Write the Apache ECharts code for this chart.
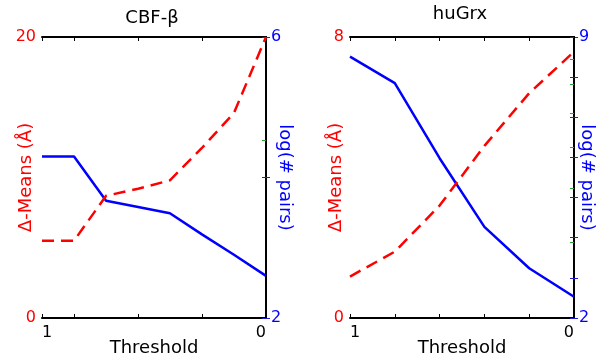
<!DOCTYPE html>
<html><head><meta charset="utf-8">
<script src="https://cdn.jsdelivr.net/npm/echarts@6/dist/echarts.min.js"></script>
<style>html,body{margin:0;padding:0;background:#fff}#c{width:600px;height:356px}</style>
</head><body><div id="c"></div>
<script>
// ---- text ----
const panelTitles = ['CBF-β', 'huGrx'];
const xAxisName = 'Threshold';
const leftAxisName = 'Δ-Means (Å)';
const rightAxisName = 'log(# pairs)';

// ---- data: CBF-β ----
const cbfThreshold = [1, 0.857, 0.714, 0.571, 0.429, 0.286, 0.143, 0];
const cbfDeltaMeans = [5.5, 5.5, 8.7, 9.2, 9.8, 12.1, 14.6, 20.0];
const cbfLogPairs = [4.30, 4.30, 3.67, 3.58, 3.49, 3.19, 2.90, 2.60];

// ---- data: huGrx ----
const grxThreshold = [1, 0.8, 0.6, 0.4, 0.2, 0];
const grxDeltaMeans = [1.18, 1.89, 3.2, 4.9, 6.4, 7.58];
const grxLogPairs = [8.51, 7.85, 5.98, 4.27, 3.24, 2.53];

// ---- axis ranges / ticks ----
const xRange = [0, 1];
const xTickStep = [2 / 7, 0.2];
const leftRange = [[0, 20], [0, 8]];
const leftTickStep = [10, 8 / 7];
const rightRange = [[2, 6], [2, 9]];
const rightTickStep = [2, 1];
const greenTickValues = [[4], [3, 4, 5, 6, 7, 8]];

const FONT = 'DejaVu Sans';
const RED = '#ff0000', BLUE = '#0000ff', GREEN = '#2e9e2e';
const gridsPos = [{ left: 42, top: 37, width: 224, height: 281 }, { left: 350, top: 37, width: 224, height: 281 }];

function endLabel(range) {
  return function (v) {
    if (Math.abs(v - range[0]) < 1e-9) return String(range[0]);
    if (Math.abs(v - range[1]) < 1e-9) return String(range[1]);
    return '';
  };
}

const grid = [], xAxis = [], yAxis = [], title = [];
const titleTops = [9, 5];
const leftNameGap = [7, 5];
const rightNameGap = [10, 4];
for (let p = 0; p < 2; p++) {
  grid.push(Object.assign({ show: false, containLabel: false, outerBoundsMode: 'none' }, gridsPos[p]));
  title.push({
    text: panelTitles[p], left: gridsPos[p].left + gridsPos[p].width / 2 - 2, top: titleTops[p], textAlign: 'center', padding: 0,
    textStyle: { fontFamily: FONT, fontSize: 18, fontWeight: 'normal', color: '#000' }
  });
  // bottom x
  xAxis.push({
    gridIndex: p, type: 'value', position: 'bottom', min: xRange[0], max: xRange[1], inverse: true, interval: xTickStep[p],
    axisLine: { lineStyle: { color: '#000', width: 2 } },
    axisTick: { inside: true, length: 4, lineStyle: { color: '#000', width: 1 } },
    axisLabel: { formatter: endLabel(xRange), color: '#000', fontFamily: FONT, fontSize: 16, margin: 7, alignMinLabel: 'right', alignMaxLabel: 'left' },
    splitLine: { show: false },
    name: xAxisName, nameLocation: 'middle', nameGap: 21, nameMoveOverlap: false,
    nameTextStyle: { fontFamily: FONT, fontSize: 18, color: '#000' }
  });
  // top x
  xAxis.push({
    gridIndex: p, type: 'value', position: 'top', min: xRange[0], max: xRange[1], inverse: true, interval: xTickStep[p],
    axisLine: { lineStyle: { color: '#000', width: 2 } },
    axisTick: { inside: true, length: 4, lineStyle: { color: '#000', width: 1 } },
    axisLabel: { show: false }, splitLine: { show: false }
  });
  // left y
  yAxis.push({
    gridIndex: p, type: 'value', position: 'left', min: leftRange[p][0], max: leftRange[p][1], interval: leftTickStep[p],
    axisLine: { lineStyle: { color: '#000080', width: 2 } },
    axisTick: { inside: true, length: 4, lineStyle: { color: '#2020d0', width: 1 } },
    axisLabel: { formatter: endLabel(leftRange[p]), color: RED, fontFamily: FONT, fontSize: 16, margin: 6 },
    splitLine: { show: false },
    name: leftAxisName, nameLocation: 'middle', nameRotate: 90, nameGap: leftNameGap[p], nameMoveOverlap: false,
    nameTextStyle: { fontFamily: FONT, fontSize: 18, color: RED }
  });
  // right y
  yAxis.push({
    gridIndex: p, type: 'value', position: 'right', min: rightRange[p][0], max: rightRange[p][1], interval: rightTickStep[p],
    axisLine: { lineStyle: { color: '#000', width: 2 } },
    axisTick: { inside: true, length: 4, lineStyle: { color: '#2020d0', width: 1 } },
    axisLabel: { formatter: endLabel(rightRange[p]), color: BLUE, fontFamily: FONT, fontSize: 16, margin: 5 },
    splitLine: { show: false },
    name: rightAxisName, nameLocation: 'middle', nameRotate: -90, nameGap: rightNameGap[p], nameMoveOverlap: false,
    nameTextStyle: { fontFamily: FONT, fontSize: 18, color: BLUE }
  });
  // green log ticks (right)
  yAxis.push({
    gridIndex: p, type: 'log', position: 'right', min: rightRange[p][0], max: rightRange[p][1],
    axisLine: { show: false },
    axisTick: { inside: true, length: 4, customValues: greenTickValues[p], lineStyle: { color: GREEN, width: 1 } },
    axisLabel: { show: false }, splitLine: { show: false }
  });
}

function pairs(xs, ys) { return xs.map((x, i) => [x, ys[i]]); }

const series = [
  { type: 'line', xAxisIndex: 0, yAxisIndex: 1, data: pairs(cbfThreshold, cbfLogPairs), symbol: 'none', lineStyle: { color: BLUE, width: 2.5 } },
  { type: 'line', xAxisIndex: 0, yAxisIndex: 0, data: pairs(cbfThreshold, cbfDeltaMeans), symbol: 'none', lineStyle: { color: RED, width: 2.5, type: [12, 7] } },
  { type: 'line', xAxisIndex: 2, yAxisIndex: 4, data: pairs(grxThreshold, grxLogPairs), symbol: 'none', lineStyle: { color: BLUE, width: 2.5 } },
  { type: 'line', xAxisIndex: 2, yAxisIndex: 3, data: pairs(grxThreshold, grxDeltaMeans), symbol: 'none', lineStyle: { color: RED, width: 2.5, type: [12, 7] } }
];

const chart = echarts.init(document.getElementById('c'), null, { renderer: 'canvas' });
chart.setOption({ animation: false, backgroundColor: '#fff', title, grid, xAxis, yAxis, series });
</script></body></html>
